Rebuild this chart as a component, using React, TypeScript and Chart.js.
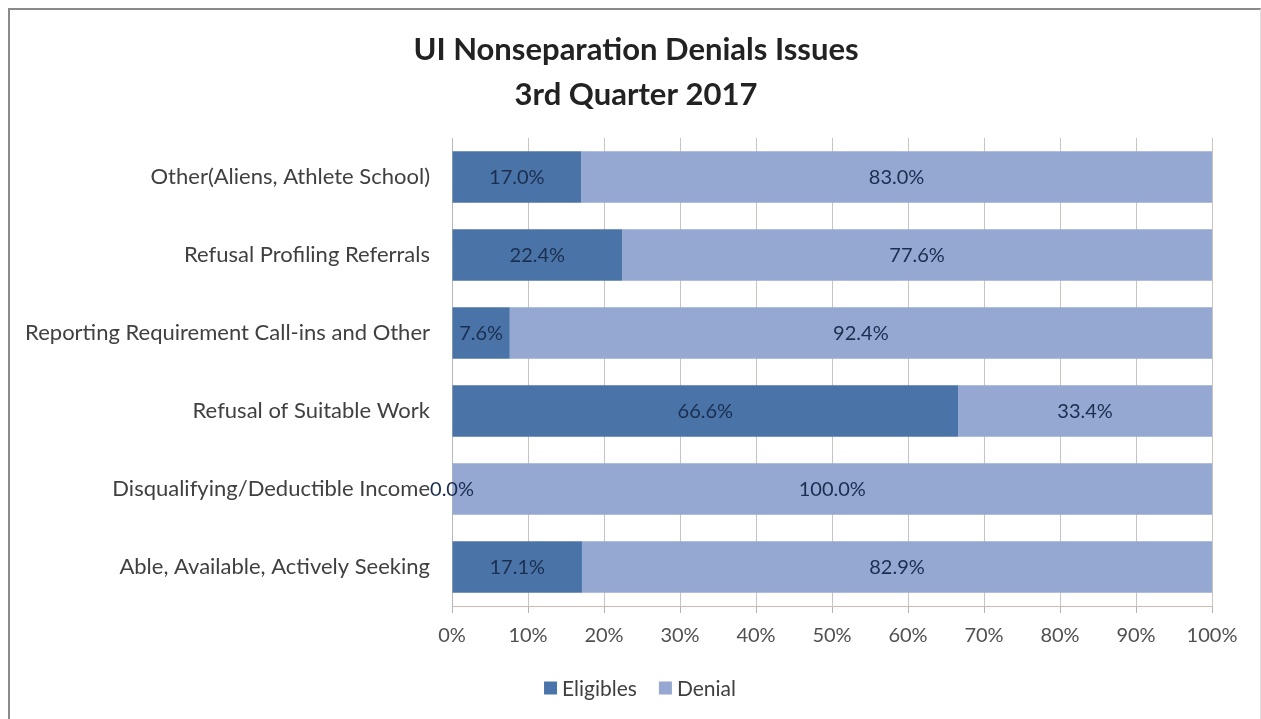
import React, { useEffect, useRef } from "react";
import { Chart, registerables } from "chart.js";

Chart.register(...registerables);

const categories = [
  "Other(Aliens, Athlete School)",
  "Refusal Profiling Referrals",
  "Reporting Requirement Call-ins and Other",
  "Refusal of Suitable Work",
  "Disqualifying/Deductible Income",
  "Able, Available, Actively Seeking",
];
const eligibles = [17.0, 22.4, 7.6, 66.6, 0.0, 17.1];
const denial = [83.0, 77.6, 92.4, 33.4, 100.0, 82.9];
const titleLines = ["UI Nonseparation Denials Issues", "3rd Quarter 2017"];

const FONT = "Lato, 'Noto Sans', sans-serif";

const dataLabelPlugin = {
  id: "dataLabels",
  afterDatasetsDraw(chart: any) {
    const ctx = chart.ctx;
    ctx.save();
    ctx.font = `20px ${FONT}`;
    ctx.fillStyle = "#1b2e4f";
    ctx.textAlign = "center";
    ctx.textBaseline = "middle";
    chart.data.datasets.forEach((ds: any, di: number) => {
      const meta = chart.getDatasetMeta(di);
      meta.data.forEach((bar: any, i: number) => {
        const v = ds.data[i];
        const cx = (bar.x + bar.base) / 2;
        ctx.fillText(`${v.toFixed(1)}%`, cx, bar.y + 1);
      });
    });
    ctx.restore();
  },
};

// Title and legend drawn centred on the whole frame (as in the reference)
const titleLegendPlugin = {
  id: "titleLegend",
  afterDraw(chart: any) {
    const ctx = chart.ctx;
    ctx.save();
    ctx.fillStyle = "#222222";
    ctx.font = `bold 31px ${FONT}`;
    ctx.textAlign = "center";
    ctx.textBaseline = "middle";
    titleLines.forEach((line, i) => ctx.fillText(line, 636, 50 + i * 45));

    ctx.font = `21px ${FONT}`;
    ctx.textAlign = "left";
    const box = 13;
    const gapBox = 5;
    const gapItem = 22;
    const items = chart.data.datasets.map((ds: any) => ({
      label: ds.label,
      color: ds.backgroundColor,
      w: ctx.measureText(ds.label).width,
    }));
    const total = items.reduce((s: number, it: any) => s + box + gapBox + it.w, 0) + gapItem * (items.length - 1);
    let x = 640 - total / 2;
    const y = 688;
    items.forEach((it: any) => {
      ctx.fillStyle = it.color;
      ctx.fillRect(x, y - box / 2, box, box);
      x += box + gapBox;
      ctx.fillStyle = "#404040";
      ctx.fillText(it.label, x, y + 1);
      x += it.w + gapItem;
    });
    ctx.restore();
  },
};

export default function App() {
  const ref = useRef<HTMLCanvasElement>(null);
  useEffect(() => {
    if (!ref.current) return;
    const chart = new Chart(ref.current, {
      type: "bar",
      data: {
        labels: categories,
        datasets: [
          { label: "Eligibles", data: eligibles, backgroundColor: "#4a74a8", barPercentage: 0.66, categoryPercentage: 1 },
          { label: "Denial", data: denial, backgroundColor: "#94a8d2", barPercentage: 0.66, categoryPercentage: 1 },
        ],
      },
      options: {
        indexAxis: "y",
        animation: false,
        responsive: true,
        maintainAspectRatio: false,
        layout: { padding: { left: 0, right: 49, top: 138, bottom: 73 } },
        plugins: {
          title: { display: false },
          legend: { display: false },
          tooltip: { enabled: false },
        },
        scales: {
          x: {
            stacked: true,
            min: 0,
            max: 100,
            ticks: {
              stepSize: 10,
              color: "#505050",
              font: { family: FONT, size: 20 },
              padding: 11,
              callback: (v: any) => `${v}%`,
            },
            grid: { color: "#cbc4be", drawTicks: true, tickLength: 7, tickColor: "#b9b2ac" },
            border: { display: true, color: "#d4b8b4" },
            afterFit: (scale: any) => {
              scale.height = 40;
            },
          },
          y: {
            stacked: true,
            ticks: { color: "#404040", font: { family: FONT, size: 22 }, padding: 22 },
            grid: { display: false, drawTicks: false },
            border: { display: true, color: "#b8b8b8" },
            afterFit: (scale: any) => {
              scale.width = 452;
            },
          },
        },
      },
      plugins: [dataLabelPlugin, titleLegendPlugin],
    });
    return () => chart.destroy();
  }, []);
  return (
    <>
      <div style={{ position: "fixed", left: 0, top: 0, width: 1261, height: 719, background: "#ffffff" }}>
        <canvas ref={ref} />
      </div>
      <div
        style={{
          position: "fixed",
          left: 8,
          top: 8,
          width: 1253,
          height: 711,
          boxSizing: "border-box",
          borderTop: "2px solid #8a8a8a",
          borderLeft: "2px solid #8a8a8a",
          borderRight: "1px solid #dddddd",
          pointerEvents: "none",
        }}
      />
    </>
  );
}
